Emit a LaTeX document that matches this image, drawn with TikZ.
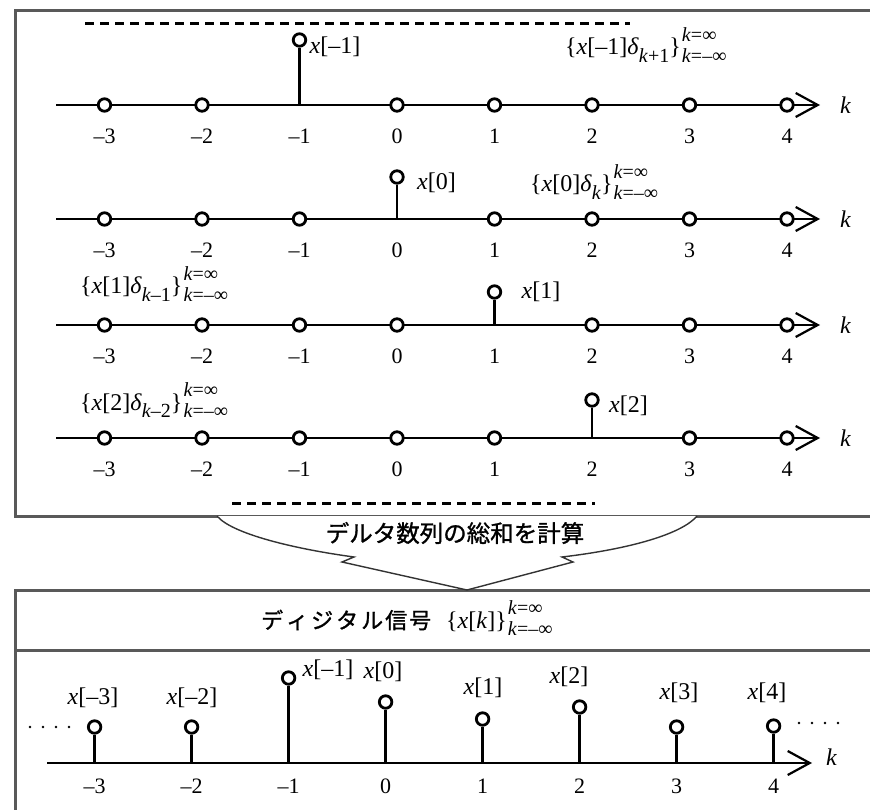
\documentclass[tikz,border=0pt]{standalone}
\usepackage{fontspec}
\setmainfont{Liberation Serif}
\newfontfamily\jp{Noto Sans CJK JP}[RawFeature={embolden=1.2}]
\usetikzlibrary{arrows.meta}
\newcommand\mnum[1]{\ifnum#1<0 –\the\numexpr 0-(#1)\relax\else#1\fi}
\newcommand\sbx[1]{\raisebox{-0.3em}{\fontsize{20}{20}\selectfont#1}}
\newcommand\kinf{\kern1pt\raisebox{0.1em}{\fontsize{20}{21}\selectfont\begin{tabular}[c]{@{}l@{}}\textit{k}=∞\\\textit{k}=–∞\end{tabular}}}
\newcommand\xl[1]{\textit{x}[#1]}
\tikzset{
  axline/.style={line width=2.4pt,-{Straight Barb[length=22pt,width=24pt,line width=2.2pt]}},
  dotc/.style={circle,draw,fill=white,line width=2.8pt,inner sep=0pt,minimum size=12.5pt},
  stemline/.style={line width=2.5pt},
  num/.style={font=\fontsize{22}{22}\selectfont,inner sep=0pt},
  lab/.style={font=\fontsize{24}{24}\selectfont,inner sep=0pt},
  ann/.style={font=\fontsize{24}{24}\selectfont,inner sep=0pt,anchor=base west},
  frameline/.style={line width=3pt,draw=black!65},
  dashline/.style={line width=3pt,dash pattern=on 9pt off 6pt},
  dotline/.style={line width=2.6pt,dash pattern=on 0pt off 13pt,line cap=round},
}
\newcommand\toprow[6]{%
  \coordinate (#1s) at (56,#2);
  \coordinate (#1e) at (820,#2);
  \draw[axline] (#1s) -- (#1e);
  \foreach \k [count=\i] in {-3,...,4}{
    \ifnum\k=#3\relax
      \coordinate (#1b\i) at ({397+97.5*\k},#2);
      \node[dotc] (#1t\i) at ({397+97.5*\k},#4) {};
      \draw[stemline] (#1b\i) -- (#1t\i.south);
      \node[lab,anchor=west] (#1l\i) at ({397+97.5*\k+#5},#6) {\xl{\mnum{\k}}};
    \else
      \node[dotc] (#1c\i) at ({397+97.5*\k},#2) {};
    \fi
    \node[num] (#1n\i) at ({397+97.5*\k},{#2+31}) {\mnum{\k}};
  }
  \node[lab,anchor=west] (#1k) at (840,#2) {\textit{k}};
}
\begin{document}
\begin{tikzpicture}[x=1pt,y=-1pt]
\useasboundingbox (0,0) rectangle (870,810);
\clip (0,0) rectangle (870,810);
% frames
\draw[frameline] (880,11) -- (15,11) -- (15,516) -- (880,516);
\draw[frameline] (880,590) -- (15,590) -- (15,830);
\draw[frameline] (15,650) -- (880,650);
% dashed lines
\coordinate (d1a) at (85,24); \coordinate (d1b) at (630,24);
\draw[dashline] (d1a) -- (d1b);
\coordinate (d2a) at (232,503); \coordinate (d2b) at (595,503);
\draw[dashline] (d2a) -- (d2b);
% rows
\toprow{ra}{105}{-1}{40}{10}{47}
\toprow{rb}{219}{0}{177}{20}{183}
\toprow{rc}{325}{1}{292}{27}{292}
\toprow{rd}{438}{2}{400}{17}{406}
% annotations
\node[ann] (an1) at (565,55) {\{\xl{–1}\textit{δ}\sbx{\textit{k}+1}\}\kinf};
\node[ann] (an2) at (530,192) {\{\xl{0}\textit{δ}\sbx{\textit{k}}\}\kinf};
\node[ann] (an3) at (80,294) {\{\xl{1}\textit{δ}\sbx{\textit{k}–1}\}\kinf};
\node[ann] (an4) at (80,410) {\{\xl{2}\textit{δ}\sbx{\textit{k}–2}\}\kinf};
% big arrow
\coordinate (pa) at (217,516); \coordinate (pb) at (354,557); \coordinate (pc) at (342,562);
\coordinate (pd) at (467,590); \coordinate (pe) at (573,562); \coordinate (pf) at (562,557);
\coordinate (pg) at (697,516);
\draw[line width=1.4pt,draw=black!80,fill=white] (pa) .. controls (232,534) and (295,549) .. (pb) -- (pc) -- (pd) -- (pe) -- (pf) .. controls (630,549) and (682,534) .. (pg);
\node[font=\jp\fontsize{23.5}{24}\selectfont,inner sep=0pt] (sumlab) at (455,533) {デルタ数列の総和を計算};
% bottom title
\node[font=\jp\fontsize{22}{24}\selectfont,inner sep=0pt,anchor=west] (ttl) at (261,620) {デ\kern3pt ィ\kern3pt ジ\kern3pt タ\kern3pt ル\kern2pt 信\kern2pt 号};
\node[ann] (ttl2) at (446,628) {\{\xl{\textit{k}}\}\kinf};
% bottom row
\coordinate (bs) at (47,763); \coordinate (be) at (812,763);
\draw[axline] (bs) -- (be);
\foreach \k/\yy/\lx/\ly [count=\i] in {-3/727/93/698,-2/727/192/698,-1/678/328/670,0/702/383/672,1/719/483/688,2/707/569/677,3/727/679/693,4/726/767/693}{
  \coordinate (bb\i) at ({385.6+97*\k},763);
  \node[dotc] (bt\i) at ({385.6+97*\k},\yy) {};
  \draw[stemline] (bb\i) -- (bt\i.south);
  \node[lab] (bl\i) at (\lx,\ly) {\xl{\mnum{\k}}};
  \node[num] (bn\i) at ({385.6+97*\k},786) {\mnum{\k}};
}
\node[lab,anchor=west] (bk) at (826,757) {\textit{k}};
\coordinate (dl1) at (30,727); \coordinate (dl2) at (72,727);
\draw[dotline] (dl1) -- (dl2);
\coordinate (dr1) at (799,723); \coordinate (dr2) at (840,723);
\draw[dotline] (dr1) -- (dr2);
\end{tikzpicture}
\end{document}
